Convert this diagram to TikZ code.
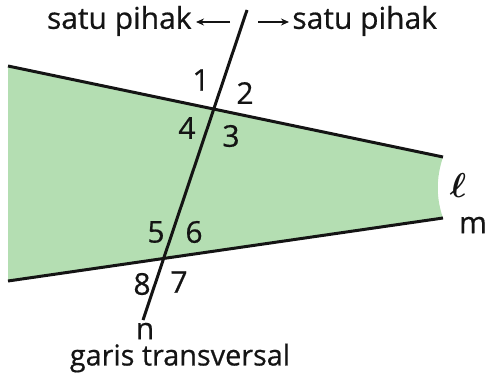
\documentclass[tikz,border=0pt]{standalone}
\usepackage{amsmath}
\usepackage{bm}
\usepackage{fontspec}
\setmainfont{Open Sans}[FakeBold=0.6]
\usetikzlibrary{arrows.meta}
\definecolor{fillgreen}{RGB}{180,222,178}
\definecolor{ink}{RGB}{20,20,20}
\tikzset{
  lbl/.style={font=\fontsize{15}{18}\selectfont, text=ink, inner sep=0pt},
  mainline/.style={draw=ink, line width=1.5pt},
  pointer/.style={draw=ink, line width=0.7pt, -{Stealth[length=4pt,width=3.5pt]}}
}
\begin{document}
\begin{tikzpicture}[x=0.5pt,y=-0.5pt]
\useasboundingbox (0,0) rectangle (485,375);
% coordinates
\coordinate (lA) at (8,66);
\coordinate (lB) at (443,157);
\coordinate (mA) at (8,281);
\coordinate (mB) at (443,218);
\coordinate (nT) at (247,10);
\coordinate (nB) at (143,320);
% fill
\fill[fillgreen] (lA) -- (lB) .. controls (436,178) and (436,198) .. (mB) -- (mA) -- cycle;
% lines
\draw[mainline] (lA) -- (lB);
\draw[mainline] (mA) -- (mB);
\draw[mainline] (nT) -- (nB);
% top labels
\node[lbl, anchor=east] (sl) at (192,21) {satu pihak};
\node[lbl, anchor=west] (sr) at (292,21) {satu pihak};
\coordinate (al0) at (230,22);
\coordinate (al1) at (196,22);
\coordinate (ar0) at (258,22);
\coordinate (ar1) at (289,22);
\draw[pointer] (al0) -- (al1);
\draw[pointer] (ar0) -- (ar1);
% angle labels
\node[lbl] (a1) at (201,80) {1};
\node[lbl] (a2) at (245,93) {2};
\node[lbl] (a4) at (187,128) {4};
\node[lbl] (a3) at (231,136) {3};
\node[lbl] (a5) at (156,232) {5};
\node[lbl] (a6) at (194,232) {6};
\node[lbl] (a8) at (142,284) {8};
\node[lbl] (a7) at (179,282) {7};
\node[lbl] (n) at (145,331) {n};
\node[lbl, font=\fontsize{14.4}{18}\selectfont] (gt) at (180,358) {garis transversal};
\node[text=ink, inner sep=0pt] (ell) at (458,185) {\fontsize{17}{20}\selectfont$\bm{\ell}$};
\node[lbl] (m) at (473,225) {m};
\end{tikzpicture}
\end{document}
